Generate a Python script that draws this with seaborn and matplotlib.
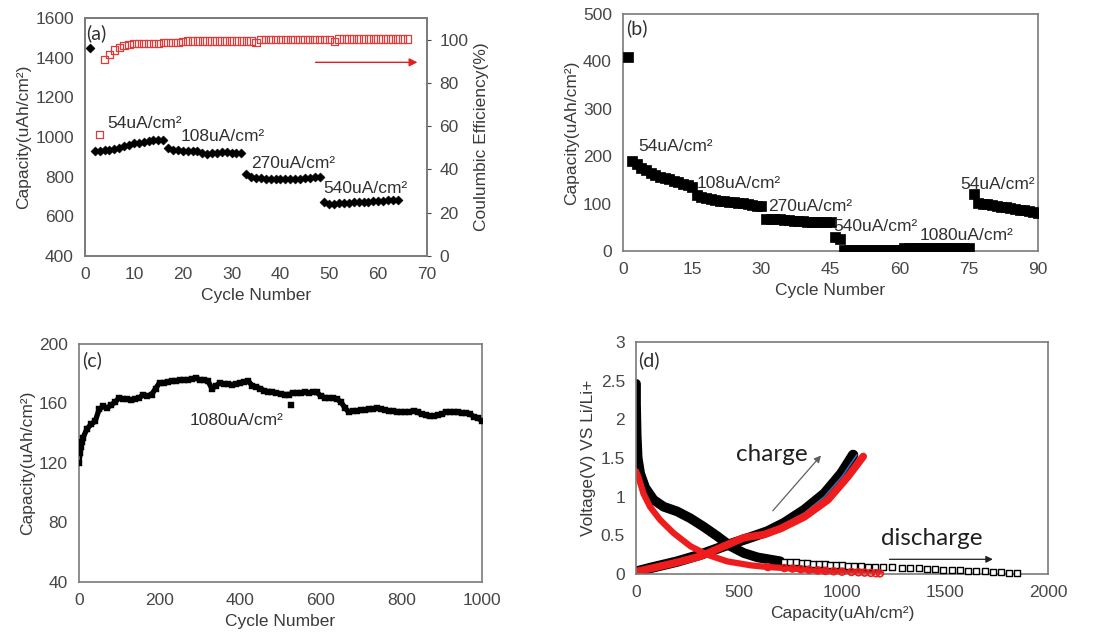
import numpy as np
import pandas as pd
import matplotlib
matplotlib.use("Agg")
import matplotlib.pyplot as plt
import seaborn as sns

sns.set_theme(style="white")
plt.rcParams['font.family'] = ['Liberation Sans', 'DejaVu Sans']

# ---------------- Panel (a) data ----------------
cyc_a_first = [1]
cap_a_first = [1448]
cyc_a = list(range(2, 65))
cap_a = [930, 930, 932, 935, 940, 945, 952, 962, 968, 970, 975, 982, 985, 985, 985,          # 54
         945, 935, 932, 930, 930, 930, 928, 918, 912, 918, 920, 922, 922, 920, 920, 920,      # 108
         815, 800, 795, 792, 790, 789, 789, 788, 788, 788, 789, 790, 792, 795, 798, 800,      # 270
         670, 663, 662, 665, 667, 668, 670, 672, 673, 674, 675, 677, 678, 680, 680, 682]      # 540
cyc_ce = list(range(3, 67))
ce_a = [56, 90.7, 93.2, 95.2, 96.4, 97.2, 97.8, 98.1, 98.1, 98.1, 98.1, 98.1, 98.1,
        98.6, 98.6, 98.6, 98.6, 99.2, 99.4, 99.4, 99.4, 99.4, 99.4, 99.4, 99.4, 99.4,
        99.4, 99.4, 99.4, 99.4, 99.4, 99.4, 98.8, 100, 100, 100, 100, 100, 100, 100,
        100, 100, 100, 100, 100, 100, 100, 100, 99.2, 100.3, 100.3, 100.3, 100.3, 100.3,
        100.3, 100.3, 100.3, 100.3, 100.3, 100.3, 100.3, 100.3, 100.3, 100.3]

# ---------------- Panel (b) data ----------------
cyc_b = list(range(1, 91))
cap_b = [410,
         190, 183, 176, 170, 165, 161, 157, 154, 151, 148, 145, 142, 139, 136,
         118, 114, 111, 109, 107, 106, 105, 104, 103, 102, 101, 100, 98, 96, 94,
         68, 68, 67, 67, 66, 65, 64, 64, 63, 62, 62, 61, 61, 61, 61,
         30, 25,
         2, 2, 2, 2, 2, 2, 2, 2, 2, 2, 2, 2, 2,
         6, 6, 6, 6, 6, 6, 6, 6, 6, 6, 6, 6, 6, 6, 6,
         120, 102, 100, 99, 97, 95, 93, 92, 90, 89, 87, 86, 85, 83, 81]

# ---------------- Panel (c) data ----------------
cyc_c = [0, 3, 5, 7] + list(range(10, 1001, 10))
cap_c = [120, 127, 131, 134,
         137, 143, 146, 148, 156, 158, 157, 159, 161, 164,
         163, 163, 162, 163, 164, 166, 165, 166, 170, 174,
         174, 174.5, 175, 175, 175.5, 176, 176, 176.5, 177, 176,
         176, 175, 170, 172, 174, 173, 173, 172.5, 173, 173.5,
         174.5, 175, 172, 171, 170, 168.5, 168, 168, 167, 166.5,
         166, 166, 167, 167, 167, 167.5, 167, 168, 167.5, 165,
         164, 163.5, 163.5, 163, 161, 157, 154, 155, 155, 155.5,
         155.5, 156, 156, 157, 156, 155.5, 155, 155, 154.5, 154,
         154, 154.5, 155, 154, 153, 152, 151.5, 151.5, 152, 153,
         154, 154.5, 154, 154, 153.5, 153.5, 153, 151, 150, 148.5]
cyc_c_out = [527]
cap_c_out = [159]

# ---------------- Panel (d) data ----------------
bdis_cap = [0, 0, 3, 8, 20, 44, 85, 134, 199, 264, 329, 394, 459, 524, 590, 655, 700]
bdis_v = [2.46, 2.2, 1.8, 1.5, 1.3, 1.12, 0.96, 0.87, 0.81, 0.72, 0.61, 0.49, 0.36, 0.27, 0.215, 0.185, 0.165]
bdis_sq_cap = [720, 748, 776, 804, 832, 860, 888, 916, 944, 972, 1000, 1030, 1060, 1092, 1125,
               1160, 1200, 1245, 1290, 1332, 1372, 1412, 1452, 1492, 1532, 1572, 1612, 1652,
               1692, 1732, 1772, 1812, 1850]
bdis_sq_v = [0.16, 0.155, 0.15, 0.145, 0.14, 0.135, 0.13, 0.125, 0.12, 0.115, 0.11, 0.105, 0.10,
             0.098, 0.095, 0.092, 0.09, 0.088, 0.082, 0.078, 0.073, 0.068, 0.063, 0.058, 0.053,
             0.048, 0.043, 0.038, 0.033, 0.028, 0.023, 0.018, 0.015]
rdis_cap = [0, 11, 36, 68, 117, 182, 264, 345, 443, 557, 640, 720, 760, 800, 840, 883, 920,
            960, 1000, 1046, 1080, 1110, 1140, 1165, 1184]
rdis_v = [1.33, 1.26, 1.04, 0.87, 0.70, 0.53, 0.36, 0.25, 0.163, 0.112, 0.09, 0.077, 0.07,
          0.062, 0.055, 0.047, 0.04, 0.035, 0.03, 0.026, 0.022, 0.018, 0.014, 0.01, 0.008]
bch_cap = [0, 68, 199, 313, 427, 541, 638, 720, 818, 915, 997, 1054]
bch_v = [0.03, 0.077, 0.16, 0.25, 0.36, 0.46, 0.55, 0.66, 0.83, 1.04, 1.30, 1.54]
rch_cap = [0, 68, 199, 313, 427, 524, 622, 704, 818, 932, 1029, 1103]
rch_v = [0.03, 0.07, 0.15, 0.23, 0.36, 0.47, 0.51, 0.59, 0.74, 0.96, 1.26, 1.52]
blue_cap = [0, 199, 427, 638, 818, 915, 1000, 1072]
blue_v = [0.03, 0.15, 0.35, 0.53, 0.79, 1.0, 1.26, 1.54]

# ---------------- styling helpers ----------------
TICK_C = '#474747'
LAB_C = '#3a3a3a'
FRAME_C = '#7a7a7a'
FS = 12.5
ANN_FONT = ['Lato', 'DejaVu Sans']


def style(ax):
    for s in ax.spines.values():
        s.set_visible(True)
        s.set_color(FRAME_C)
        s.set_linewidth(1.2)
    ax.tick_params(axis='both', length=0, pad=8, labelsize=FS, colors=TICK_C)


fig = plt.figure(figsize=(11, 6.44), dpi=100)

# ---------------- (a) ----------------
axA = fig.add_axes([0.0773, 0.6025, 0.3109, 0.3696])
axA2 = axA.twinx()
sns.scatterplot(x=cyc_a_first + cyc_a, y=cap_a_first + cap_a, ax=axA, marker='D', s=22,
                color='black', edgecolor='black', linewidth=0.3, zorder=3)
sns.scatterplot(x=cyc_ce, y=ce_a, ax=axA2, marker='s', s=28, facecolor='none',
                edgecolor='#e03a3a', linewidth=0.9, zorder=3)
axA.set_xlim(0, 70)
axA.set_ylim(400, 1600)
axA2.set_ylim(0, 110)
axA.set_xticks(range(0, 71, 10))
axA.set_yticks(range(400, 1601, 200))
axA2.set_yticks(range(0, 101, 20))
style(axA)
style(axA2)
axA2.tick_params(axis='y', length=3, pad=6, colors=TICK_C, width=0.8)
axA.set_xlabel('Cycle Number', fontsize=FS, color=LAB_C, labelpad=4)
axA.set_ylabel('Capacity(uAh/cm²)', fontsize=FS, color=LAB_C, labelpad=3)
axA2.set_ylabel('Coulumbic Efficiency(%)', fontsize=FS, color=LAB_C, labelpad=4)
axA2.annotate('', xy=(68.6, 89.5), xytext=(46.6, 89.5),
              arrowprops=dict(arrowstyle='-|>', color='#e02020', lw=1.0, mutation_scale=12))
for txt, x, y in [('54uA/cm²', 4.6, 1070), ('108uA/cm²', 19.6, 1002),
                  ('270uA/cm²', 34.0, 868), ('540uA/cm²', 48.7, 742)]:
    axA.text(x, y, txt, fontsize=FS, color='#303030', va='center', ha='left')
axA.text(0.3, 1524, '(a)', fontsize=14, color='#303030', va='center', ha='left', family=ANN_FONT)

# ---------------- (b) ----------------
axB = fig.add_axes([0.5664, 0.6102, 0.3773, 0.3680])
sns.scatterplot(x=cyc_b, y=cap_b, ax=axB, marker='s', s=50, color='black',
                edgecolor='black', linewidth=0.5, zorder=3)
axB.set_xlim(0, 90)
axB.set_ylim(0, 500)
axB.set_xticks(range(0, 91, 15))
axB.set_yticks(range(0, 501, 100))
style(axB)
axB.set_xlabel('Cycle Number', fontsize=FS, color=LAB_C, labelpad=4)
axB.set_ylabel('Capacity(uAh/cm²)', fontsize=FS, color=LAB_C, labelpad=3)
for txt, x, y in [('54uA/cm²', 3.3, 220), ('108uA/cm²', 15.9, 142), ('270uA/cm²', 31.5, 93),
                  ('540uA/cm²', 45.6, 52), ('1080uA/cm²', 64.3, 33), ('54uA/cm²', 73.1, 141)]:
    axB.text(x, y, txt, fontsize=FS, color='#303030', va='center', ha='left', zorder=4)
axB.text(0.7, 470, '(b)', fontsize=14, color='#303030', va='center', ha='left', family=ANN_FONT)

# ---------------- (c) ----------------
axC = fig.add_axes([0.0718, 0.0963, 0.3664, 0.3696])
sns.lineplot(x=cyc_c, y=cap_c, ax=axC, color='black', lw=3.8, sort=False, estimator=None)
sns.scatterplot(x=cyc_c + cyc_c_out, y=cap_c + cap_c_out, ax=axC, marker='s', s=14,
                color='black', edgecolor='black', linewidth=0.3, zorder=3)
axC.set_xlim(0, 1000)
axC.set_ylim(40, 200)
axC.set_xticks(range(0, 1001, 200))
axC.set_yticks(range(40, 201, 40))
style(axC)
axC.set_xlabel('Cycle Number', fontsize=FS, color=LAB_C, labelpad=4)
axC.set_ylabel('Capacity(uAh/cm²)', fontsize=FS, color=LAB_C, labelpad=3)
axC.text(273.6, 148.8, '1080uA/cm²', fontsize=FS, color='#303030', va='center', ha='left')
axC.text(6.6, 189, '(c)', fontsize=14, color='#303030', va='center', ha='left', family=ANN_FONT)

# ---------------- (d) ----------------
axD = fig.add_axes([0.5782, 0.1087, 0.3745, 0.3602])
sns.lineplot(x=bdis_cap, y=bdis_v, ax=axD, color='black', lw=7, sort=False, estimator=None)
sns.scatterplot(x=bdis_sq_cap, y=bdis_sq_v, ax=axD, marker='s', s=24, facecolor='white',
                edgecolor='black', linewidth=1.0, zorder=3, clip_on=False)
sns.lineplot(x=bch_cap, y=bch_v, ax=axD, color='black', lw=7.5, sort=False, estimator=None)
sns.lineplot(x=blue_cap, y=blue_v, ax=axD, color='#2f6fb5', lw=1.2, sort=False, estimator=None)
sns.lineplot(x=rdis_cap, y=rdis_v, ax=axD, color='#ee1c1c', lw=4.5, sort=False, estimator=None)
sns.scatterplot(x=rdis_cap[10:], y=rdis_v[10:], ax=axD, marker='o', s=24, facecolor='none',
                edgecolor='#ee1c1c', linewidth=1.2, zorder=4, clip_on=False)
sns.lineplot(x=rch_cap, y=rch_v, ax=axD, color='#ee1c1c', lw=5.5, sort=False, estimator=None)
for ln in axD.lines:
    ln.set_solid_capstyle('round')
axD.set_xlim(0, 2000)
axD.set_ylim(0, 3)
axD.set_xticks(range(0, 2001, 500))
axD.set_yticks([0, 0.5, 1, 1.5, 2, 2.5, 3])
axD.set_yticklabels(['0', '0.5', '1', '1.5', '2', '2.5', '3'])
style(axD)
axD.set_xlabel('Capacity(uAh/cm²)', fontsize=FS, color=LAB_C, labelpad=4)
axD.set_ylabel('Voltage(V) VS Li/Li+', fontsize=FS, color=LAB_C, labelpad=3)
axD.text(11, 2.76, '(d)', fontsize=14, color='#303030', va='center', ha='left', family=ANN_FONT)
axD.text(484, 1.54, 'charge', fontsize=17.5, color='#202020', va='center', ha='left', family=ANN_FONT)
axD.text(1189, 0.46, 'discharge', fontsize=17.5, color='#202020', va='center', ha='left', family=ANN_FONT)
axD.annotate('', xy=(907, 1.56), xytext=(655, 0.79),
             arrowprops=dict(arrowstyle='-|>', color='#606060', lw=0.9, mutation_scale=10))
axD.annotate('', xy=(1746, 0.19), xytext=(1217, 0.19),
             arrowprops=dict(arrowstyle='-|>', color='#202020', lw=0.9, mutation_scale=10))

fig.savefig('out.png', dpi=100)
